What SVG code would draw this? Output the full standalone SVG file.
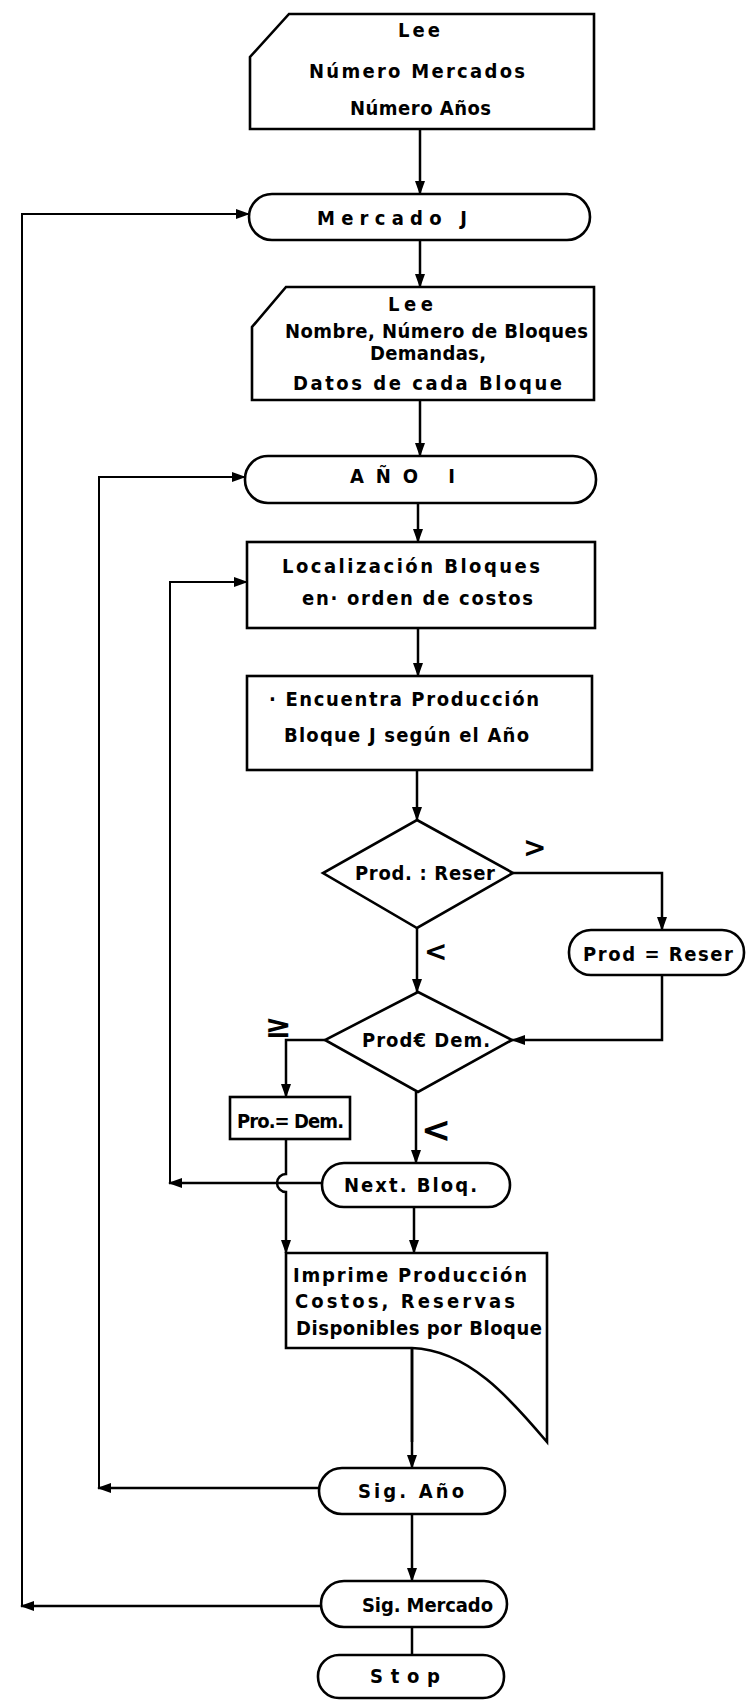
<svg xmlns="http://www.w3.org/2000/svg" width="747" height="1700" viewBox="0 0 747 1700">
<defs>
<marker id="arr" viewBox="0 0 14 10" refX="13" refY="5" markerWidth="14" markerHeight="10" markerUnits="userSpaceOnUse" orient="auto">
<path d="M0,0 L14,5 L0,10 Z" fill="#000"/>
</marker>
<style>
.s{fill:#fff;stroke:#000;stroke-width:2.6;stroke-linejoin:miter}
.c{fill:none;stroke:#000;stroke-width:2.5}
.l{fill:none;stroke:#000;stroke-width:2}
.t{font-family:"DejaVu Sans Condensed","DejaVu Sans","Liberation Sans",sans-serif;font-weight:bold;font-size:20px;fill:#000}
.m{font-family:"DejaVu Sans","Liberation Sans",sans-serif;font-weight:bold;fill:#000}
</style>
</defs>
<rect width="747" height="1700" fill="#fff"/>

<g id="connectors">
<path class="c" d="M420,129 V194" marker-end="url(#arr)"/>
<path class="c" d="M420,240 V287" marker-end="url(#arr)"/>
<path class="c" d="M420,400 V456" marker-end="url(#arr)"/>
<path class="c" d="M418,503 V542" marker-end="url(#arr)"/>
<path class="c" d="M418,628 V676" marker-end="url(#arr)"/>
<path class="c" d="M417,770 V820" marker-end="url(#arr)"/>
<path class="c" d="M513,873 H662 V930" marker-end="url(#arr)"/>
<path class="c" d="M662,975 V1040 H512" marker-end="url(#arr)"/>
<path class="c" d="M417,928 V992" marker-end="url(#arr)"/>
<path class="c" d="M325,1040 H286 V1097" marker-end="url(#arr)"/>
<path class="c" d="M416,1092 V1163" marker-end="url(#arr)"/>
<path class="c" d="M286,1139 V1174 A9,9 0 0 0 286,1192 V1253" marker-end="url(#arr)"/>
<path class="c" d="M322,1183 H169" marker-end="url(#arr)"/>
<path class="l" d="M170,1183 V582 H247" marker-end="url(#arr)"/>
<path class="c" d="M414,1207 V1253" marker-end="url(#arr)"/>
<path class="c" d="M412,1348 V1468" marker-end="url(#arr)"/>
<path class="c" d="M319,1488 H98" marker-end="url(#arr)"/>
<path class="l" d="M99,1488 V477 H245" marker-end="url(#arr)"/>
<path class="c" d="M412,1514 V1581" marker-end="url(#arr)"/>
<path class="c" d="M321,1606 H21" marker-end="url(#arr)"/>
<path class="l" d="M22,1606 V214 H249" marker-end="url(#arr)"/>
<path class="c" d="M412,1627 V1655"/>
</g>

<g id="lee-mercados">
<path class="s" d="M289,14 L594,14 L594,129 L250,129 L250,57 Z"/>
<text class="t" x="398" y="37" textLength="42" lengthAdjust="spacing">Lee</text>
<text class="t" x="309" y="78" textLength="216" lengthAdjust="spacing">Número Mercados</text>
<text class="t" x="350" y="115" textLength="141" lengthAdjust="spacing">Número Años</text>
</g>

<g id="mercado-j">
<rect class="s" x="249" y="194" width="341" height="46" rx="23"/>
<text class="t" x="317" y="225" textLength="150" lengthAdjust="spacing">Mercado J</text>
</g>

<g id="lee-bloques">
<path class="s" d="M286,287 L594,287 L594,400 L252,400 L252,327 Z"/>
<text class="t" x="388" y="311" textLength="45" lengthAdjust="spacing">Lee</text>
<text class="t" x="285" y="338" textLength="303" lengthAdjust="spacing">Nombre, Número de Bloques</text>
<text class="t" x="370" y="360" textLength="116" lengthAdjust="spacing">Demandas,</text>
<text class="t" x="293" y="390" textLength="269" lengthAdjust="spacing">Datos de cada Bloque</text>
</g>

<g id="ano-i">
<rect class="s" x="245" y="456" width="351" height="47" rx="23"/>
<text class="t" x="350" y="483" textLength="105" lengthAdjust="spacing">AÑO I</text>
</g>

<g id="localizacion">
<rect class="s" x="247" y="542" width="348" height="86"/>
<text class="t" x="282" y="573" textLength="258" lengthAdjust="spacing">Localización Bloques</text>
<text class="t" x="302" y="605" textLength="231" lengthAdjust="spacing">en· orden de costos</text>
</g>

<g id="encuentra">
<rect class="s" x="247" y="676" width="345" height="94"/>
<text class="t" x="269" y="706" textLength="270" lengthAdjust="spacing">· Encuentra Producción</text>
<text class="t" x="284" y="742" textLength="245" lengthAdjust="spacing">Bloque J según el Año</text>
</g>

<g id="decision-reser">
<path class="s" d="M417,820 L513,873 L417,928 L323,873 Z"/>
<text class="t" x="355" y="880" textLength="140" lengthAdjust="spacing">Prod. : Reser</text>
<text class="m" x="523" y="857" font-size="28">&gt;</text>
<text class="m" x="424" y="961" font-size="28">&lt;</text>
</g>

<g id="prod-reser">
<rect class="s" x="569" y="930" width="175" height="45" rx="22"/>
<text class="t" x="583" y="961" textLength="150" lengthAdjust="spacing">Prod = Reser</text>
</g>

<g id="decision-dem">
<path class="s" d="M418,992 L512,1040 L418,1092 L325,1040 Z"/>
<text class="t" x="362" y="1047" textLength="128" lengthAdjust="spacing">Prod€ Dem.</text>
<text class="m" x="265" y="1037" font-size="32">≥</text>
<text class="m" x="421" y="1142" font-size="36">&lt;</text>
</g>

<g id="pro-dem">
<rect class="s" x="230" y="1097" width="120" height="42"/>
<text class="t" x="237" y="1128" font-size="18" textLength="107" lengthAdjust="spacing">Pro.= Dem.</text>
</g>

<g id="next-bloq">
<rect class="s" x="322" y="1163" width="188" height="44" rx="22"/>
<text class="t" x="344" y="1192" textLength="133" lengthAdjust="spacing">Next. Bloq.</text>
</g>

<g id="imprime">
<path class="s" d="M286,1253 L547,1253 L547,1442 C510,1398 468,1350 412,1348 L286,1348 Z"/>
<text class="t" x="293" y="1282" textLength="234" lengthAdjust="spacing">Imprime Producción</text>
<text class="t" x="295" y="1308" textLength="220" lengthAdjust="spacing">Costos, Reservas</text>
<text class="t" x="296" y="1335" textLength="246" lengthAdjust="spacing">Disponibles por Bloque</text>
<path class="c" d="M412,1348 V1442" style="stroke-width:2.6"/>
</g>

<g id="sig-ano">
<rect class="s" x="319" y="1468" width="186" height="46" rx="23"/>
<text class="t" x="358" y="1498" textLength="106" lengthAdjust="spacing">Sig. Año</text>
</g>

<g id="sig-mercado">
<rect class="s" x="321" y="1581" width="186" height="46" rx="23"/>
<text class="t" x="362" y="1612" textLength="131" lengthAdjust="spacing">Sig. Mercado</text>
</g>

<g id="stop">
<rect class="s" x="318" y="1655" width="186" height="43" rx="21"/>
<text class="t" x="370" y="1683" textLength="70" lengthAdjust="spacing">Stop</text>
</g>
</svg>
